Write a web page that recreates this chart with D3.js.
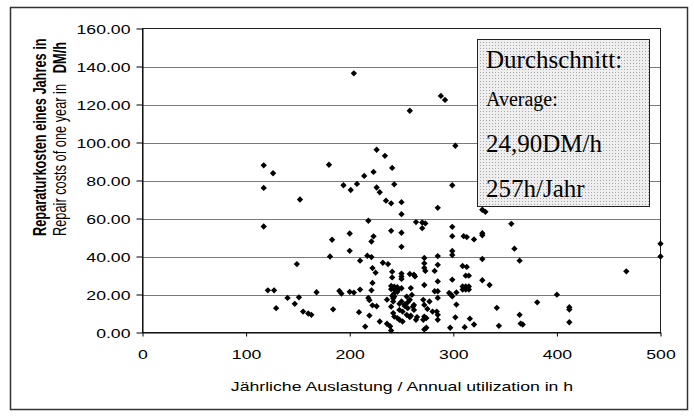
<!DOCTYPE html>
<html>
<head>
<meta charset="utf-8">
<script src="https://cdn.jsdelivr.net/npm/d3@7"></script>
<style>
  body { margin: 0; background: #fff; }
  svg { display: block; }
</style>
</head>
<body>
<div id="chart"></div>
<script>
var width = 694,
height = 419;

// annual utilization (h) and repair cost (DM/h) per machine
var hours = [117,126,117,152,117,149,121,127,129,140,147,151,168,155,160,163,
  204,288,292,258,302,226,234,180,241,223,214,
  194,207,201,243,299,226,229,235,240,250,250,285,328,331,356,
  218,264,270,273,270,299,200,183,223,221,240,250,250,299,310,313,320,328,328,359,200,500,299,299,
  181,210,217,221,232,237,222,225,272,285,272,272,273,285,282,309,313,328,364,500,467,
  241,241,250,250,250,258,262,263,222,312,315,299,285,272,259,328,335,
  309,312,315,309,312,315,240,243,246,240,244,247,250,243,246,241,
  210,221,200,204,190,192,282,285,296,298,299,303,
  184,209,219,218,219,222,226,236,242,250,253,256,229,236,215,239,240,242,243,246,240,243,242,
  260,255,258,248,262,253,256,261,248,251,255,259,265,262,248,251,258,264,
  271,272,277,272,271,274,280,284,285,285,275,285,303,302,316,320,311,297,272,274,
  342,344,364,365,367,381,400,412,412,412]
var costs = [88.0,83.8,76.1,70.0,55.8,36.0,22.2,22.2,12.8,18.2,15.1,18.5,21.2,11.0,10.0,9.3,
  136.4,124.5,122.4,116.7,98.3,96.2,93.0,88.3,86.6,84.5,82.4,
  77.5,78.2,75.0,78.0,77.5,76.3,73.8,69.4,68.0,68.6,62.3,65.6,64.6,63.5,57.2,
  58.8,58.1,57.9,57.4,54.9,55.6,52.1,48.8,50.6,47.9,53.5,52.5,45.1,50.7,50.7,50.2,49.0,52.3,51.2,44.1,43.0,46.7,42.9,40.8,
  40.0,37.8,40.4,39.7,36.7,36.0,33.9,31.5,39.2,40.2,36.4,34.0,32.4,35.6,32.4,35.0,34.5,38.7,37.8,40.0,32.2,
  32.0,29.0,31.0,29.5,28.2,30.8,30.4,29.5,26.1,29.9,29.9,27.8,26.9,25.0,23.4,27.5,25.0,
  24.2,24.2,24.2,22.6,22.6,22.6,24.5,24.1,23.8,22.8,22.4,22.8,23.3,20.7,21.4,19.3,
  22.6,22.2,21.4,21.0,21.9,20.5,21.7,21.7,20.8,19.9,19.0,21.1,
  12.2,10.7,8.9,18.2,17.0,14.3,13.8,17.3,16.3,16.3,14.6,15.9,5.8,4.6,3.1,3.3,1.0,10.2,8.4,7.6,13.6,18.9,18.0,
  19.8,18.9,17.2,15.1,14.5,14.0,12.8,13.6,11.9,11.0,9.3,8.8,8.1,11.9,6.7,5.8,8.1,6.7,
  17.2,14.5,16.3,8.4,6.7,7.6,11.0,11.0,9.3,6.7,12.4,18.2,14.7,8.0,7.3,4.2,2.8,2.5,1.6,2.5,
  13.0,3.5,9.3,4.7,4.2,15.9,19.9,13.3,12.1,5.4]

var yTicks = [0,20,40,60,80,100,120,140,160]
var xTicks = [0,100,200,300,400,500]
var boxLines = ["Durchschnitt:","Average:","24,90DM/h","257h/Jahr"]

var stretch = "scale(1.38,1)"

var x = d3.scaleLinear().domain([0,500]).range([142.5,660.5])
var y = d3.scaleLinear().domain([0,160]).range([332.5,28.5])

var svg = d3.select("#chart").append("svg")
  .attr("width", width)
  .attr("height", height)
  .style("font-family", "'Liberation Sans', Arial, sans-serif")

var defs = svg.append("defs")
var pat = defs.append("pattern")
  .attr("id", "dots")
  .attr("width", 3).attr("height", 3)
  .attr("patternUnits", "userSpaceOnUse")
pat.append("rect").attr("width", 3).attr("height", 3).attr("fill", "#eeeeee")
pat.append("rect").attr("width", 1).attr("height", 1).attr("fill", "#a8a8a8")

// outer frame
svg.append("rect")
  .attr("x", 10.5).attr("y", 7.5)
  .attr("width", 677).attr("height", 402)
  .attr("fill", "none").attr("stroke", "#333").attr("stroke-width", 1.5)

// gridlines
svg.append("g").selectAll("line")
  .data(yTicks.slice(1, -1))
  .enter().append("line")
  .attr("x1", x(0)).attr("x2", x(500))
  .attr("y1", function(d){ return Math.round(y(d)) + 0.5 })
  .attr("y2", function(d){ return Math.round(y(d)) + 0.5 })
  .attr("stroke", "#7a7a7a")

// plot border
svg.append("rect")
  .attr("x", x(0)).attr("y", y(160))
  .attr("width", x(500) - x(0)).attr("height", y(0) - y(160))
  .attr("fill", "none").attr("stroke", "#222")

var yAxis = svg.append("g")
  .attr("transform", "translate(" + x(0) + ",0)")
  .call(d3.axisLeft(y).tickValues(yTicks).tickSize(6).tickSizeOuter(0).tickFormat(d3.format(".2f")))
yAxis.selectAll("text")
  .attr("x", null).attr("dy", null)
  .attr("transform", "translate(-12,4.5) " + stretch)
  .style("font-size", "12.8px").attr("fill", "#000")

var xAxis = svg.append("g")
  .attr("transform", "translate(0," + y(0) + ")")
  .call(d3.axisBottom(x).tickValues(xTicks).tickSize(4).tickSizeOuter(0))
xAxis.selectAll("text")
  .attr("y", null).attr("dy", null)
  .attr("transform", "translate(0,26) " + stretch)
  .style("font-size", "12.8px").attr("fill", "#000")
svg.selectAll(".domain, .tick line").attr("stroke", "#000")

// axis titles
svg.append("text")
  .attr("transform", "translate(402,391) " + stretch)
  .attr("text-anchor", "middle")
  .style("font-size", "12.8px")
  .text("Jährliche Auslastung / Annual utilization in h")

svg.append("text")
  .attr("transform", "translate(46,236) " + stretch + " rotate(-90)")
  .style("font-size", "12.8px").style("font-weight", "bold")
  .text("Reparaturkosten eines Jahres in")
svg.append("text")
  .attr("transform", "translate(66,42) " + stretch + " rotate(-90)")
  .attr("text-anchor", "end")
  .style("font-size", "12.8px").style("font-weight", "bold")
  .text("DM/h")
svg.append("text")
  .attr("transform", "translate(66,236) " + stretch + " rotate(-90)")
  .style("font-size", "12.8px")
  .text("Repair costs of one year in")

// points
var pts = d3.zip(hours, costs)
var sym = d3.symbol().type(d3.symbolSquare).size(20)
svg.append("g").selectAll("path")
  .data(pts)
  .enter().append("path")
  .attr("d", sym)
  .attr("transform", function(d){ return "translate(" + x(d[0]) + "," + y(d[1]) + ") rotate(45)" })
  .attr("fill", "#000")

// average box
svg.append("rect")
  .attr("x", 477.5).attr("y", 39.5)
  .attr("width", 172).attr("height", 167)
  .attr("fill", "url(#dots)").attr("stroke", "#222")

var boxY = [68, 106, 152, 197]
var boxSize = [25, 20, 25, 25]
svg.append("g").selectAll("text")
  .data(boxLines)
  .enter().append("text")
  .attr("x", 486)
  .attr("y", function(d, i){ return boxY[i] })
  .style("font-family", "'Liberation Serif', 'Times New Roman', serif")
  .style("font-size", function(d, i){ return boxSize[i] + "px" })
  .text(function(d){ return d })
</script>
</body>
</html>
